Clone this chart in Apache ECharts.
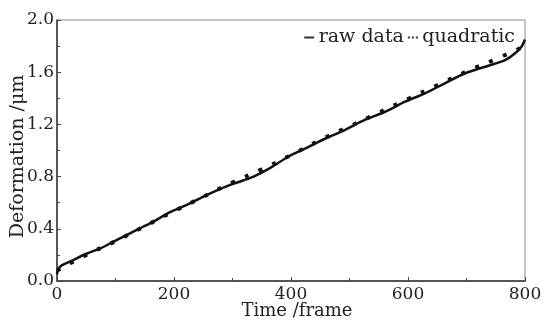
<!DOCTYPE html>
<html>
<head>
<meta charset="utf-8">
<script src="https://cdn.jsdelivr.net/npm/echarts@6/dist/echarts.min.js"></script>
<style>html,body{margin:0;padding:0;background:#fff;}#c{width:545px;height:321px;}</style>
</head>
<body>
<div id="c"></div>
<script>
// Raw data: time (frame) and deformation (µm)
var rawFrames = [0, 2, 8, 25, 48, 74, 96, 119, 142, 165, 190, 210, 227, 262, 296, 318, 336, 364, 398, 424, 458, 492, 526, 561, 595, 629, 663, 697, 732, 766, 783, 794, 800];
var rawValues = [0.05, 0.09, 0.12, 0.155, 0.205, 0.25, 0.30, 0.352, 0.404, 0.455, 0.52, 0.56, 0.595, 0.672, 0.736, 0.77, 0.80, 0.865, 0.96, 1.015, 1.09, 1.157, 1.234, 1.297, 1.374, 1.438, 1.515, 1.59, 1.642, 1.693, 1.745, 1.795, 1.85];
// Quadratic fit curve
var quadFrames = [0, 50, 100, 150, 200, 250, 300, 350, 400, 450, 500, 550, 600, 650, 700, 750, 800];
var quadValues = [0.08, 0.20, 0.305, 0.42, 0.535, 0.645, 0.755, 0.855, 0.965, 1.08, 1.185, 1.29, 1.395, 1.50, 1.605, 1.70, 1.80];
var seriesNames = ['raw data', 'quadratic'];
var xAxisName = 'Time /frame';
var yAxisName = 'Deformation /\u03bcm';

function pairs(xs, ys) { return xs.map(function (x, i) { return [x, ys[i]]; }); }

var font = 'DejaVu Serif';
var chart = echarts.init(document.getElementById('c'), null, {renderer: 'canvas'});
chart.setOption({
  animation: false,
  backgroundColor: '#fff',
  grid: {left: 57, right: 20, top: 20, bottom: 40, show: true, borderColor: '#8a8a8a', borderWidth: 1,
    containLabel: false, outerBoundsMode: 'none'},
  legend: {
    right: 25, top: 23, itemGap: 4, itemWidth: 11, itemHeight: 2,
    textStyle: {fontFamily: font, fontSize: 19, color: '#222', padding: [0, 0, 0, -1]},
    data: [
      {name: seriesNames[0], icon: 'path://M0,0h10v2h-10z', itemStyle: {color: '#333'}},
      {name: seriesNames[1], icon: 'path://M0,0h2v2h-2zM4,0h2v2h-2zM8,0h2v2h-2z', itemStyle: {color: '#333'}}
    ]
  },
  xAxis: {
    type: 'value', min: 0, max: 800, interval: 200,
    name: xAxisName, nameLocation: 'middle', nameGap: 21, nameMoveOverlap: false,
    nameTextStyle: {fontFamily: font, fontSize: 18, color: '#222', padding: [0, 0, 0, 12]},
    axisLine: {lineStyle: {color: '#555', width: 2}},
    axisTick: {inside: true, length: 4, lineStyle: {color: '#444'}},
    minorTick: {show: true, splitNumber: 2, length: 3, lineStyle: {color: '#444'}},
    splitLine: {show: false},
    axisLabel: {fontFamily: font, fontSize: 17, color: '#222', margin: 5}
  },
  yAxis: {
    type: 'value', min: 0, max: 2.0, interval: 0.4,
    name: yAxisName, nameLocation: 'middle', nameGap: 29, nameMoveOverlap: false,
    nameTextStyle: {fontFamily: font, fontSize: 19, color: '#222', padding: [0, 0, 0, -12]},
    axisLine: {lineStyle: {color: '#333', width: 1.5}},
    axisTick: {inside: true, length: 4, lineStyle: {color: '#444'}},
    minorTick: {show: true, splitNumber: 2, length: 3, lineStyle: {color: '#444'}},
    splitLine: {show: false},
    axisLabel: {fontFamily: font, fontSize: 17, color: '#222', margin: 3,
      formatter: function (v) { return v.toFixed(1); }}
  },
  series: [
    {
      name: seriesNames[0], type: 'line', showSymbol: false, symbol: 'none',
      smooth: 0.3, data: pairs(rawFrames, rawValues),
      itemStyle: {color: '#111'},
      lineStyle: {color: '#111', width: 2.5}, z: 3
    },
    {
      name: seriesNames[1], type: 'line', showSymbol: false, symbol: 'none',
      smooth: true, data: pairs(quadFrames, quadValues),
      itemStyle: {color: '#111'},
      lineStyle: {color: '#111', width: 4, type: [4, 11], cap: 'butt'}, z: 4
    }
  ]
});
</script>
</body>
</html>
